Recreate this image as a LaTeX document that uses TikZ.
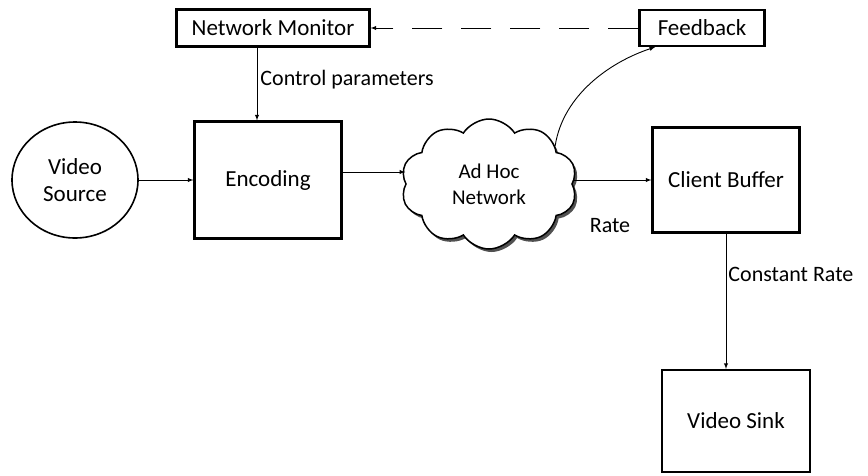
\documentclass[tikz,border=0pt]{standalone}
\usepackage{fontspec}
\setmainfont{Carlito}
\usepackage{tikz}
\usetikzlibrary{shapes,shapes.symbols,shadows,arrows}

\tikzset{
  blk/.style={draw,line width=2.2pt,minimum width=#1,inner sep=0pt,font=\fontsize{23}{27}\selectfont},
  lbl/.style={font=\fontsize{22}{26}\selectfont,inner sep=2pt}
}

\begin{document}
\begin{tikzpicture}[x=1pt,y=-1pt]
\pgfsetlinewidth{.9pt}
\useasboundingbox (0,0) rectangle (868,475);
\node[blk=193pt,minimum height=37pt] (monitor) at (273,28) {Network Monitor};
\node[blk=125pt,minimum height=36pt] (feedback) at (702,28) {Feedback};
\node[draw,ellipse,line width=1.6pt,minimum width=126pt,minimum height=116pt,inner sep=0pt,
      align=center,font=\fontsize{23}{27}\selectfont] (source) at (75,180) {Video\\Source};
\node[blk=147pt,minimum height=117pt] (encoding) at (268,180) {Encoding};
\node[cloud,cloud puffs=10,cloud puff arc=115,aspect=1.35,draw,line width=1.5pt,fill=white,
      drop shadow={shadow xshift=2.5pt,shadow yshift=-3pt,opacity=.85,fill=black!80},
      minimum width=176pt,minimum height=130pt,align=center,
      font=\fontsize{21}{26}\selectfont] (cloud) at (489,184) {Ad Hoc\\Network};
\node[blk=147pt,minimum height=105pt] (buffer) at (726,180) {Client Buffer};
\node[blk=148pt,minimum height=102pt] (sink) at (736,421) {Video Sink};
% connectors
\draw[-latex,dash pattern=on 30pt off 19pt] (feedback.west) -- (monitor.east);
\draw[-latex] (monitor.south -| 257,0) -- (encoding.north -| 257,0)
  node[lbl,midway,right,xshift=1pt,yshift=4pt] {Control parameters};
\draw[-latex] (source.east) -- (encoding.west);
\draw[-latex] (encoding.east |- 0,172) -- (cloud.west |- 0,172);
\draw[-latex] (cloud.east |- buffer.west) -- (buffer.west);
\node[lbl] (rate) at (610,226) {Rate};
\draw[-latex] (cloud.30) .. controls (563,95) and (610,62) .. (feedback.south -| 655,0);
\draw[-latex] (buffer.south) -- (buffer.south |- sink.north)
  node[lbl,pos=.3,right] {Constant Rate};
\end{tikzpicture}
\end{document}
